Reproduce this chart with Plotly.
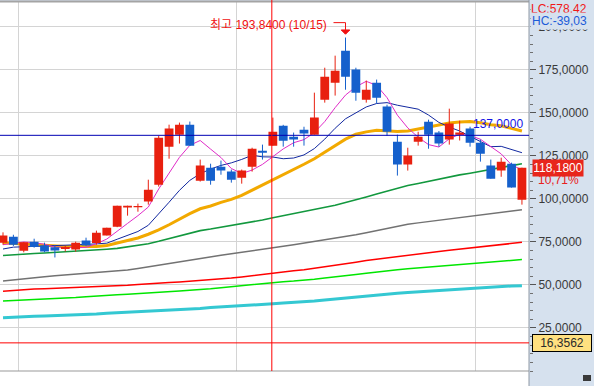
import plotly.graph_objects as go

# ---------------- data ----------------
idx = list(range(51))
opens = [74.6, 78.1, 69.9, 75.2, 73.0, 71.9, 70.9, 70.7, 75.8, 74.4,
         78.8, 83.9, 95.1, 95.2, 98.6, 108.3, 130.4, 137.4, 143.2, 110.6,
         118.2, 118.8, 115.9, 112.4, 118.8, 128.1, 131.0, 142.6, 136.2, 140.3,
         137.4, 157.7, 167.6, 186.2, 175.2, 157.7, 167.6, 153.7, 133.3, 120.0,
         133.3, 144.9, 138.6, 134.5, 137.4, 140.9, 132.7, 119.4, 116.5, 120.5,
         99.6]
highs = [80.6, 79.2, 75.0, 76.9, 74.6, 73.0, 72.8, 75.2, 77.5, 81.6,
         83.3, 96.1, 96.1, 97.3, 111.2, 136.8, 143.2, 144.4, 145.0, 122.9,
         120.5, 122.3, 117.1, 117.1, 129.8, 131.6, 147.3, 143.1, 138.6, 142.0,
         161.8, 176.3, 183.3, 193.84, 176.3, 168.8, 169.4, 154.8, 137.4, 129.8,
         139.1, 146.1, 139.5, 152.5, 145.5, 142.0, 134.5, 122.9, 124.0, 121.1,
         118.18]
lows = [73.4, 72.7, 69.0, 71.7, 69.0, 66.0, 69.5, 69.4, 72.6, 73.4,
        78.8, 83.6, 90.3, 92.6, 96.7, 107.2, 123.4, 132.2, 131.0, 110.1,
        108.3, 114.1, 109.5, 108.9, 115.9, 122.9, 131.0, 130.4, 130.4, 131.0,
        137.4, 156.0, 160.1, 163.5, 157.1, 156.0, 155.4, 136.8, 113.6, 116.5,
        131.0, 129.2, 130.4, 131.6, 134.0, 130.4, 121.7, 111.8, 112.9, 106.6,
        96.7]
closes = [78.7, 73.4, 74.8, 72.1, 69.5, 70.1, 72.1, 74.6, 73.0, 80.4,
          83.3, 96.1, 96.1, 95.8, 105.4, 135.6, 140.9, 143.2, 131.0, 119.4,
          110.6, 116.5, 111.2, 116.5, 129.2, 126.9, 139.1, 133.9, 134.5, 138.0,
          147.3, 171.1, 174.6, 171.1, 161.8, 163.5, 158.9, 139.1, 120.0, 125.2,
          136.2, 137.4, 132.2, 143.8, 138.6, 132.7, 126.3, 111.8, 121.7, 106.6,
          118.18]

ma5 = [73.4, 74.3, 75.0, 74.6, 73.7, 72.0, 71.7, 71.7, 71.9, 74.0,
       76.7, 81.5, 85.8, 90.3, 95.3, 105.8, 114.8, 124.2, 131.2, 134.0,
       129.0, 124.1, 117.7, 114.8, 116.8, 120.1, 124.6, 129.1, 132.7, 134.5,
       138.6, 145.0, 153.1, 160.4, 165.2, 168.4, 166.0, 158.9, 148.7, 141.3,
       135.9, 131.6, 130.2, 135.0, 137.6, 136.9, 134.7, 130.6, 126.2, 119.8,
       116.9]
ma10 = [70.9, 72.0, 72.2, 72.4, 72.4, 72.8, 73.2, 73.4, 73.6, 73.9,
        74.3, 76.6, 78.7, 81.1, 84.7, 91.2, 98.1, 105.0, 110.8, 114.7,
        117.4, 119.5, 121.0, 123.0, 125.4, 124.5, 124.4, 123.4, 123.8, 125.6,
        129.3, 134.8, 141.1, 146.6, 149.8, 153.5, 155.5, 156.0, 154.5, 153.3,
        152.2, 148.8, 144.5, 141.8, 139.5, 136.4, 133.2, 130.4, 130.6, 128.7,
        126.9]
ma20 = [74.6, 74.2, 73.8, 73.4, 73.0, 72.7, 72.4, 72.3, 72.3, 72.4,
        73.0, 74.3, 75.8, 77.3, 79.5, 82.0, 85.0, 88.3, 91.5, 94.3,
        95.9, 98.0, 99.8, 102.1, 105.1, 107.9, 111.2, 114.2, 117.3, 120.2,
        123.4, 127.1, 131.0, 134.8, 137.6, 139.0, 139.9, 139.7, 139.2, 139.5,
        140.7, 141.8, 142.8, 144.2, 144.7, 145.0, 144.3, 143.2, 142.6, 141.0,
        139.5]
ma_green = [67.1, 67.6, 68.0, 68.3, 68.6, 68.9, 69.3, 69.6, 70.0, 70.3,
            70.8, 71.3, 72.1, 73.0, 74.0, 75.4, 77.0, 78.6, 80.2, 81.6,
            82.5, 83.5, 84.4, 85.5, 86.6, 87.8, 89.1, 90.3, 91.4, 92.6,
            93.8, 95.0, 96.3, 97.9, 99.4, 101.2, 102.9, 104.5, 106.3, 107.8,
            109.0, 110.3, 111.5, 112.8, 114.0, 115.0, 116.0, 117.0, 118.2, 119.4,
            120.5]
ma_gray = [52.3, 53.0, 53.7, 54.3, 54.8, 55.3, 55.8, 56.3, 56.8, 57.2,
           57.6, 58.0, 58.7, 59.6, 60.6, 61.6, 62.6, 63.5, 64.5, 65.6,
           66.5, 67.3, 68.1, 68.9, 69.8, 70.7, 71.6, 72.5, 73.4, 74.3,
           75.2, 76.1, 77.1, 78.1, 79.2, 80.4, 81.6, 82.8, 84.2, 85.3,
           86.1, 86.9, 87.6, 88.3, 89.0, 89.8, 90.6, 91.4, 92.2, 93.0,
           93.8]
ma_red = [46.4, 46.9, 47.3, 47.6, 47.8, 48.0, 48.2, 48.5, 48.8, 49.2,
          49.4, 49.6, 49.8, 50.3, 50.8, 51.1, 51.4, 51.8, 52.2, 52.7,
          53.1, 53.6, 54.1, 54.7, 55.5, 56.2, 57.0, 57.7, 58.3, 58.8,
          59.6, 60.5, 61.4, 62.3, 63.2, 64.2, 65.0, 65.8, 66.7, 67.4,
          68.1, 68.8, 69.5, 70.2, 70.9, 71.6, 72.3, 73.0, 73.6, 74.2,
          74.8]
ma_lime = [40.7, 41.1, 41.4, 41.6, 41.8, 42.0, 42.3, 42.7, 43.2, 43.7,
           44.0, 44.3, 44.6, 44.9, 45.3, 45.6, 46.0, 46.5, 47.0, 47.3,
           47.8, 48.4, 49.0, 49.8, 50.3, 50.9, 51.4, 51.9, 52.3, 52.7,
           53.4, 54.1, 54.9, 55.5, 56.1, 56.8, 57.6, 58.3, 58.9, 59.4,
           59.9, 60.4, 60.8, 61.4, 62.0, 62.6, 63.2, 63.6, 64.0, 64.4,
           64.8]
ma_cyan = [30.9, 31.3, 31.6, 31.8, 32.0, 32.2, 32.3, 32.5, 32.7, 33.1,
           33.6, 33.9, 34.2, 34.5, 34.7, 34.9, 35.2, 35.7, 36.1, 36.4,
           36.9, 37.2, 37.6, 37.9, 38.3, 38.6, 39.1, 39.5, 39.8, 40.2,
           40.7, 41.3, 41.9, 42.5, 43.1, 43.7, 44.3, 44.8, 45.2, 45.6,
           46.0, 46.5, 46.9, 47.3, 47.8, 48.2, 48.5, 48.8, 49.1, 49.4,
           49.6]

month_breaks = [1.5, 22.5, 45.5]
ytick_vals = [25, 50, 75, 100, 125, 150, 175, 200]
ytick_text = ["25,0000", "50,0000", "75,0000", "100,0000", "125,0000",
              "150,0000", "175,0000", "200,0000"]
hline_value = 137.0
hline_text = "137,0000"
cross_x = 25.9
cross_y = 16.3562
cross_y_text = "16,3562"
last_text = "118,1800"
change_text = "10,71%"
lc_text = "LC:578,42"
hc_text = "HC:-39,03"
peak_text = "최고 193,8400 (10/15)"

# ---------------- style ----------------
W, H = 594, 386
ML, MR, MT, MB = 0, 65, 2, 15
PW, PH = W - ML - MR, H - MT - MB
XR = [-0.29, 50.68]
YR = [0, 214.5]
px_x = (XR[1] - XR[0]) / PW      # index units per pixel
px_y = (YR[1] - YR[0]) / PH      # value units per pixel

FONT = "Liberation Sans, Arial, Noto Sans CJK KR, sans-serif"
FS = 12
UP, DOWN = "#e8200f", "#1560cc"
PANEL = "#d6e1ee"

fig = go.Figure()

ma_specs = [
    (ma_cyan, "#34c8d2", 3),
    (ma_lime, "#00e600", 1.5),
    (ma_red, "#ff0000", 1.5),
    (ma_gray, "#727272", 1.5),
    (ma_green, "#12983e", 1.6),
    (ma20, "#f2a900", 3),
    (ma10, "#1228a0", 1),
    (ma5, "#e02cc8", 1),
]
for vals, col, w in ma_specs:
    fig.add_trace(go.Scatter(x=idx, y=vals, mode="lines",
                             line=dict(color=col, width=w),
                             hoverinfo="skip", showlegend=False))

# candles: wicks and bodies from OHLC
half = 4.4 * px_x
for color, is_up in ((UP, True), (DOWN, False)):
    wx, wy, bx, by = [], [], [], []
    for i, o, h, l, c in zip(idx, opens, highs, lows, closes):
        if (c >= o) != is_up:
            continue
        wx += [i, i, None]
        wy += [l, h, None]
        lo, hi = min(o, c), max(o, c)
        if hi - lo < 1.2 * px_y:
            mid = (hi + lo) / 2
            lo, hi = mid - 0.6 * px_y, mid + 0.6 * px_y
        bx += [i - half, i + half, i + half, i - half, i - half, None]
        by += [lo, lo, hi, hi, lo, None]
    fig.add_trace(go.Scatter(x=wx, y=wy, mode="lines",
                             line=dict(color=color, width=1),
                             hoverinfo="skip", showlegend=False))
    fig.add_trace(go.Scatter(x=bx, y=by, mode="lines", fill="toself",
                             fillcolor=color, line=dict(color=color, width=0),
                             hoverinfo="skip", showlegend=False))

# peak marker geometry relative to the highest high
i_pk = max(idx, key=lambda k: highs[k])
h_pk = highs[i_pk]

shapes = [
    dict(type="rect", xref="paper", yref="paper", x0=0, x1=1,
         y0=-MB / PH, y1=0, fillcolor="white", line=dict(width=0), layer="below"),
    dict(type="line", xref="paper", yref="paper", x0=0, x1=1, y0=1 + 0.5 / PH, y1=1 + 0.5 / PH,
         line=dict(color="#a4a4a4", width=2)),
    dict(type="line", xref="paper", yref="paper", x0=0, x1=1, y0=0, y1=0,
         line=dict(color="#999999", width=1)),
    dict(type="line", xref="paper", yref="paper", x0=1, x1=1, y0=-MB / PH - 0.01, y1=1 + MT / PH + 0.01,
         line=dict(color="#8e98a4", width=1)),
    dict(type="line", xref="paper", yref="y", x0=0, x1=1, y0=hline_value, y1=hline_value,
         line=dict(color="#0000b4", width=1)),
    dict(type="line", xref="paper", yref="y", x0=0, x1=1, y0=cross_y, y1=cross_y,
         line=dict(color="#ff0000", width=1)),
    dict(type="line", xref="x", yref="paper", x0=cross_x, x1=cross_x, y0=0, y1=1 + MT / PH,
         line=dict(color="#ff0000", width=1)),
    dict(type="path", xref="x", yref="y",
         path=f"M {i_pk - 12 * px_x} {h_pk + 14.9 * px_y} L {i_pk} {h_pk + 14.9 * px_y} L {i_pk} {h_pk + 7.6 * px_y}",
         line=dict(color="#f01010", width=1)),
    dict(type="path", xref="x", yref="y",
         path=f"M {i_pk - 4.3 * px_x} {h_pk + 7.6 * px_y} L {i_pk + 4.3 * px_x} {h_pk + 7.6 * px_y} L {i_pk} {h_pk + 3.3 * px_y} Z",
         fillcolor="#f01010", line=dict(color="#f01010", width=1)),
    dict(type="rect", xref="paper", yref="paper",
         x0=583 / PW, x1=591 / PW, y0=-10 / PH, y1=-4 / PH,
         fillcolor="#3a3a3a", line=dict(width=0)),
]

ann = [
    dict(xref="paper", yref="paper", x=530 / PW, y=(PH + MT - 8.5) / PH, xanchor="left", yanchor="middle",
         text=lc_text, showarrow=False, bgcolor=PANEL, borderpad=0,
         font=dict(family=FONT, size=FS, color="#f01818")),
    dict(xref="paper", yref="paper", x=530 / PW, y=(PH + MT - 21) / PH, xanchor="left", yanchor="middle",
         text=hc_text, showarrow=False, bgcolor=PANEL, borderpad=1, width=62, align="left",
         font=dict(family=FONT, size=FS, color="#1c5cd8")),
    dict(xref="paper", yref="y", x=532 / PW, y=closes[-1], xanchor="left", yanchor="middle",
         text=last_text, showarrow=False, bgcolor="#e8261c", borderpad=1, width=48,
         font=dict(family=FONT, size=FS, color="white")),
    dict(xref="paper", yref="y", x=536 / PW, y=closes[-1], yshift=-12, xanchor="left", yanchor="middle",
         text=change_text, showarrow=False,
         font=dict(family=FONT, size=FS, color="#e82020")),
    dict(xref="paper", yref="y", x=532 / PW, y=cross_y, xanchor="left", yanchor="middle",
         text=cross_y_text, showarrow=False, bgcolor="#ffe080", bordercolor="#000000",
         borderwidth=1, borderpad=1, width=56,
         font=dict(family=FONT, size=FS, color="#2a2a2a")),
    dict(xref="paper", yref="y", x=1 - 4 / PW, y=hline_value, xanchor="right", yanchor="bottom",
         yshift=2, text=hline_text, showarrow=False,
         font=dict(family=FONT, size=FS, color="#1414e6")),
    dict(xref="x", yref="y", x=i_pk - 17 * px_x, y=h_pk + 12.6 * px_y, xanchor="right", yanchor="middle",
         text=peak_text, showarrow=False,
         font=dict(family=FONT, size=FS, color="#f01010")),
]

fig.update_layout(
    width=W, height=H,
    margin=dict(l=ML, r=MR, t=MT, b=MB, pad=0),
    paper_bgcolor=PANEL, plot_bgcolor="white",
    showlegend=False,
    xaxis=dict(range=XR, tickmode="array", tickvals=month_breaks, showticklabels=False,
               ticks="", showgrid=True, gridcolor="#d4d4d4", gridwidth=1,
               zeroline=False, showline=False, fixedrange=True),
    yaxis=dict(side="right", range=YR, tickmode="array", tickvals=ytick_vals, ticktext=ytick_text,
               showgrid=True, gridcolor="#d4d4d4", gridwidth=1, zeroline=False, showline=False,
               ticks="outside", ticklen=6, tickcolor="#555555", tickwidth=1,
               tickfont=dict(family=FONT, size=FS, color="#3a3a3a"),
               minor=dict(tickmode="linear", tick0=0, dtick=5, ticks="outside", ticklen=3,
                          tickcolor="#707070", showgrid=False),
               fixedrange=True),
    shapes=shapes,
    annotations=ann,
)

fig.write_html("out.html", config={"displayModeBar": False},
               post_script="document.body.style.margin='0';document.body.style.overflow='hidden';")
